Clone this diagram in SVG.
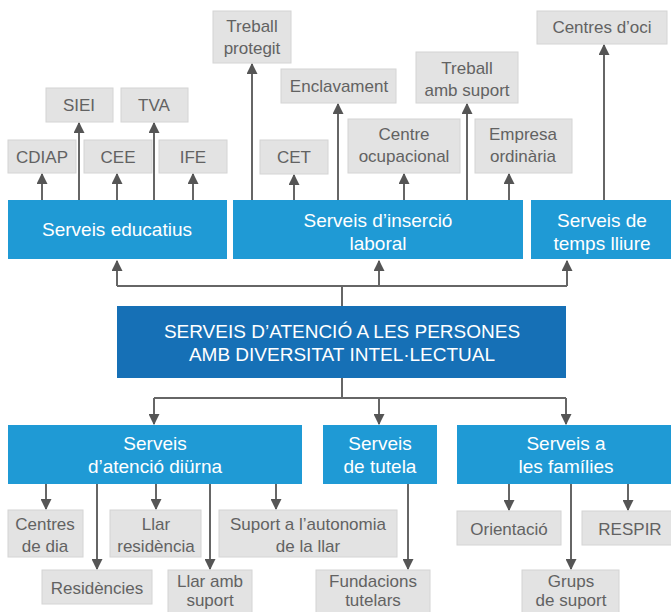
<svg xmlns="http://www.w3.org/2000/svg" width="671" height="612" viewBox="0 0 671 612">
<style>
.b{fill:#1f9ad5}
.m{fill:#1670b6}
.g{fill:#e3e3e3;stroke:#d4d4d4;stroke-width:1}
text{font-family:"Liberation Sans",Arial,sans-serif;text-anchor:middle}
.gt{fill:#626262;font-size:17px}
.bt{fill:#ffffff;font-size:19px}
.c line,.c polyline{stroke:#666;stroke-width:2;fill:none}
</style>
<defs>
<marker id="ah" viewBox="0 0 10 10" refX="9" refY="5" markerWidth="5.5" markerHeight="5.5" orient="auto" markerUnits="strokeWidth">
<path d="M0,0 L10,5 L0,10 z" fill="#555"/>
</marker>
</defs>
<rect width="671" height="612" fill="#fff"/>

<g class="c">
<line x1="342" y1="306" x2="342" y2="286"/>
<polyline points="117,286 567,286"/>
<line x1="117" y1="286" x2="117" y2="261" marker-end="url(#ah)"/>
<line x1="379" y1="286" x2="379" y2="261" marker-end="url(#ah)"/>
<line x1="567" y1="286" x2="567" y2="261" marker-end="url(#ah)"/>
<line x1="342" y1="378" x2="342" y2="398"/>
<polyline points="154,398 566,398"/>
<line x1="154" y1="398" x2="154" y2="424" marker-end="url(#ah)"/>
<line x1="379" y1="398" x2="379" y2="424" marker-end="url(#ah)"/>
<line x1="566" y1="398" x2="566" y2="424" marker-end="url(#ah)"/>

<line x1="42" y1="200" x2="42" y2="174" marker-end="url(#ah)"/>
<line x1="79" y1="200" x2="79" y2="123" marker-end="url(#ah)"/>
<line x1="117" y1="200" x2="117" y2="174" marker-end="url(#ah)"/>
<line x1="154" y1="200" x2="154" y2="123" marker-end="url(#ah)"/>
<line x1="193" y1="200" x2="193" y2="174" marker-end="url(#ah)"/>
<line x1="252" y1="200" x2="252" y2="64" marker-end="url(#ah)"/>
<line x1="294" y1="200" x2="294" y2="175" marker-end="url(#ah)"/>
<line x1="338" y1="200" x2="338" y2="104" marker-end="url(#ah)"/>
<line x1="404" y1="200" x2="404" y2="174" marker-end="url(#ah)"/>
<line x1="467" y1="200" x2="467" y2="104" marker-end="url(#ah)"/>
<line x1="509" y1="200" x2="509" y2="174" marker-end="url(#ah)"/>
<line x1="604" y1="200" x2="604" y2="45" marker-end="url(#ah)"/>

<line x1="46" y1="484" x2="46" y2="509" marker-end="url(#ah)"/>
<line x1="97" y1="484" x2="97" y2="569" marker-end="url(#ah)"/>
<line x1="156" y1="484" x2="156" y2="509" marker-end="url(#ah)"/>
<line x1="210" y1="484" x2="210" y2="569" marker-end="url(#ah)"/>
<line x1="276" y1="484" x2="276" y2="509" marker-end="url(#ah)"/>
<line x1="408" y1="484" x2="408" y2="569" marker-end="url(#ah)"/>
<line x1="509" y1="484" x2="509" y2="510" marker-end="url(#ah)"/>
<line x1="571" y1="484" x2="571" y2="569" marker-end="url(#ah)"/>
<line x1="628" y1="484" x2="628" y2="510" marker-end="url(#ah)"/>
</g>

<g id="main"><rect class="m" x="117" y="306" width="449" height="72"/>
<text class="bt" x="342" y="338">SERVEIS D’ATENCIÓ A LES PERSONES</text>
<text class="bt" x="342" y="361">AMB DIVERSITAT INTEL·LECTUAL</text></g>

<g id="educatius"><rect class="b" x="8" y="200" width="219" height="59"/><text class="bt" x="117" y="236">Serveis educatius</text></g>
<g id="insercio"><rect class="b" x="233" y="200" width="290" height="59"/><text class="bt" x="378" y="227">Serveis d’inserció</text><text class="bt" x="378" y="250">laboral</text></g>
<g id="lleure"><rect class="b" x="531" y="200" width="140" height="59"/><text class="bt" x="602" y="227">Serveis de</text><text class="bt" x="602" y="250">temps lliure</text></g>

<g id="diurna"><rect class="b" x="8" y="425" width="294" height="59"/><text class="bt" x="155" y="450">Serveis</text><text class="bt" x="155" y="473">d’atenció diürna</text></g>
<g id="tutela"><rect class="b" x="323" y="425" width="114" height="59"/><text class="bt" x="380" y="450">Serveis</text><text class="bt" x="380" y="473">de tutela</text></g>
<g id="families"><rect class="b" x="457" y="425" width="214" height="59"/><text class="bt" x="566" y="450">Serveis a</text><text class="bt" x="566" y="473">les famílies</text></g>

<g id="cdiap"><rect class="g" x="8" y="140" width="68" height="33"/><text class="gt" x="42" y="163">CDIAP</text></g>
<g id="cee"><rect class="g" x="84" y="140" width="68" height="33"/><text class="gt" x="118" y="163">CEE</text></g>
<g id="ife"><rect class="g" x="159" y="140" width="68" height="33"/><text class="gt" x="193" y="163">IFE</text></g>
<g id="siei"><rect class="g" x="46" y="88" width="67" height="34"/><text class="gt" x="79" y="111">SIEI</text></g>
<g id="tva"><rect class="g" x="121" y="88" width="67" height="34"/><text class="gt" x="154" y="111">TVA</text></g>

<g id="protegit"><rect class="g" x="213" y="11" width="78" height="52"/><text class="gt" x="252" y="32">Treball</text><text class="gt" x="252" y="54">protegit</text></g>
<g id="enclavament"><rect class="g" x="281" y="69" width="115" height="34"/><text class="gt" x="339" y="92">Enclavament</text></g>
<g id="ambsuport"><rect class="g" x="416" y="52" width="102" height="51"/><text class="gt" x="467" y="74">Treball</text><text class="gt" x="467" y="96">amb suport</text></g>
<g id="cet"><rect class="g" x="260" y="140" width="68" height="34"/><text class="gt" x="294" y="163">CET</text></g>
<g id="ocupacional"><rect class="g" x="348" y="119" width="112" height="54"/><text class="gt" x="404" y="140">Centre</text><text class="gt" x="404" y="162">ocupacional</text></g>
<g id="empresa"><rect class="g" x="475" y="119" width="97" height="54"/><text class="gt" x="523" y="140">Empresa</text><text class="gt" x="523" y="162">ordinària</text></g>
<g id="oci"><rect class="g" x="537" y="11" width="130" height="33"/><text class="gt" x="602" y="33">Centres d’oci</text></g>

<g id="centresdia"><rect class="g" x="8" y="510" width="75" height="47"/><text class="gt" x="45" y="530">Centres</text><text class="gt" x="45" y="552">de dia</text></g>
<g id="llarres"><rect class="g" x="110" y="510" width="91" height="47"/><text class="gt" x="156" y="530">Llar</text><text class="gt" x="156" y="552">residència</text></g>
<g id="autonomia"><rect class="g" x="219" y="510" width="178" height="47"/><text class="gt" x="308" y="530">Suport a l’autonomia</text><text class="gt" x="308" y="552">de la llar</text></g>
<g id="residencies"><rect class="g" x="42" y="570" width="110" height="34"/><text class="gt" x="97" y="594">Residències</text></g>
<g id="llaramb"><rect class="g" x="168" y="570" width="84" height="46"/><text class="gt" x="210" y="587">Llar amb</text><text class="gt" x="210" y="606">suport</text></g>
<g id="fundacions"><rect class="g" x="316" y="570" width="114" height="46"/><text class="gt" x="373" y="587">Fundacions</text><text class="gt" x="373" y="606">tutelars</text></g>
<g id="orientacio"><rect class="g" x="457" y="511" width="104" height="34"/><text class="gt" x="509" y="535">Orientació</text></g>
<g id="respir"><rect class="g" x="582" y="511" width="90" height="34"/><text class="gt" x="630" y="535">RESPIR</text></g>
<g id="grups"><rect class="g" x="522" y="570" width="97" height="46"/><text class="gt" x="571" y="587">Grups</text><text class="gt" x="571" y="606">de suport</text></g>
</svg>
